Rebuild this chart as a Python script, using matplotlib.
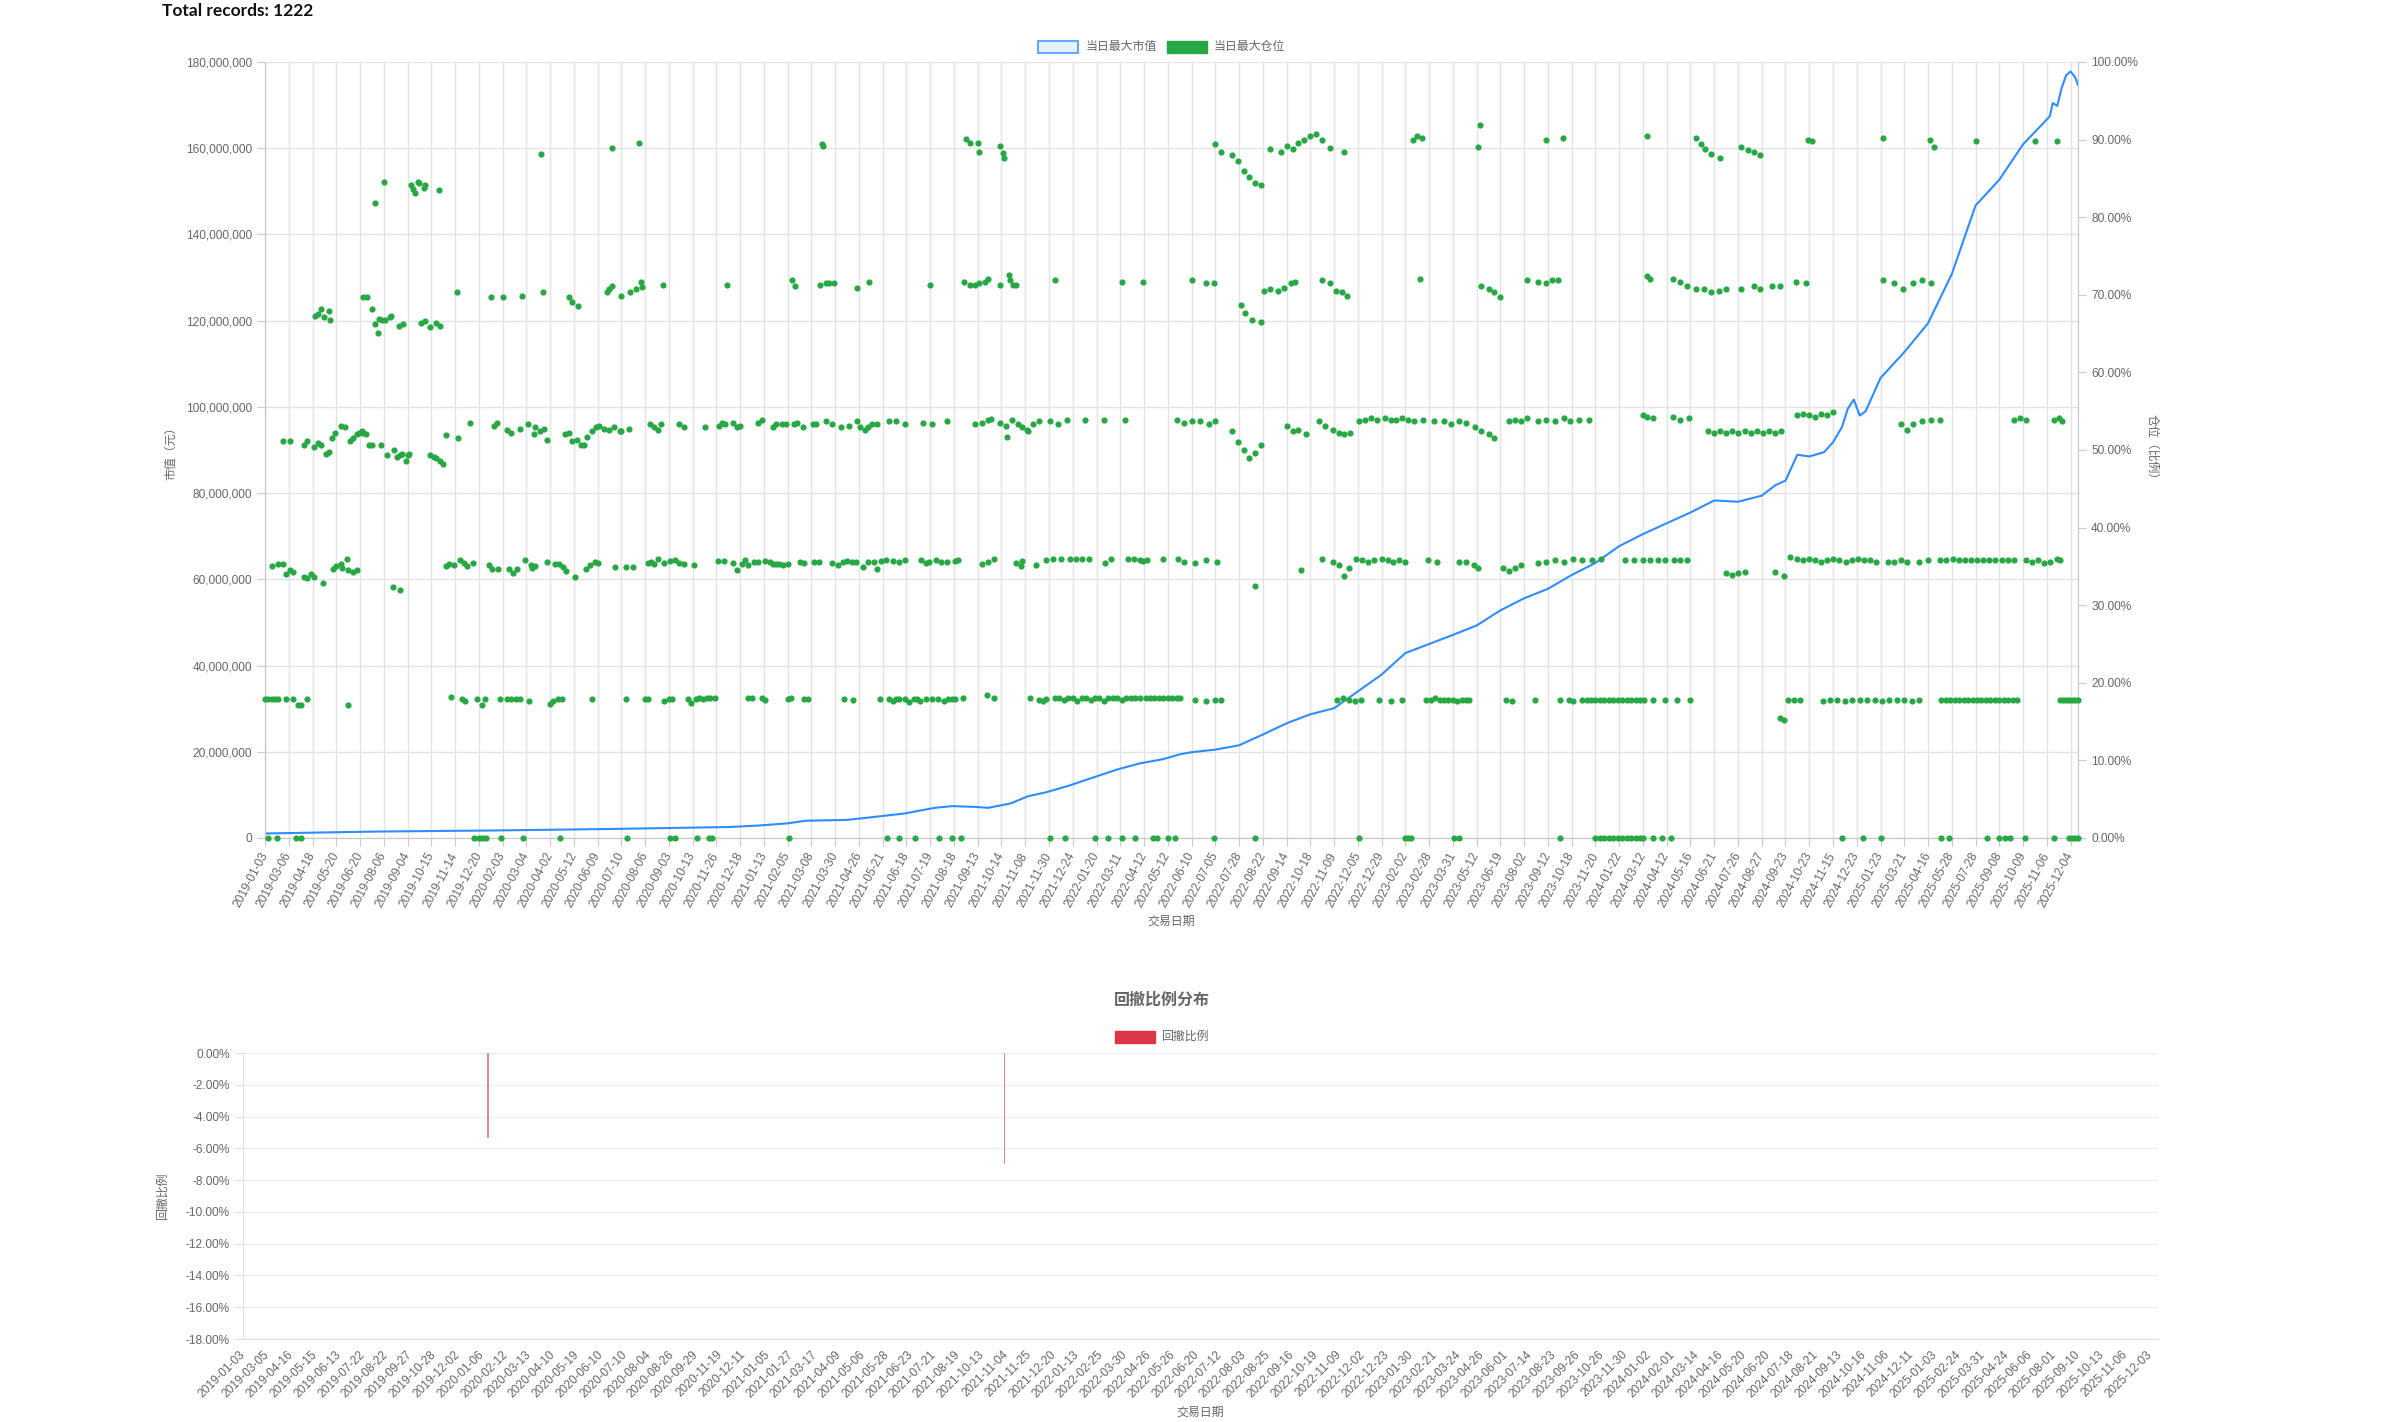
import numpy as np
import matplotlib
matplotlib.use('Agg')
from matplotlib import pyplot as plt
from matplotlib.ticker import FuncFormatter

plt.rcParams['font.family'] = ['Liberation Sans', 'Noto Sans CJK SC']

n_records = 1222
tick_step = 16
tick_labels = [
    '2019-01-03', '2019-03-06', '2019-04-18', '2019-05-20', '2019-06-20', '2019-08-06',
    '2019-09-04', '2019-10-15', '2019-11-14', '2019-12-20', '2020-02-03', '2020-03-04',
    '2020-04-02', '2020-05-12', '2020-06-09', '2020-07-10', '2020-08-06', '2020-09-03',
    '2020-10-13', '2020-11-26', '2020-12-18', '2021-01-13', '2021-02-05', '2021-03-08',
    '2021-03-30', '2021-04-26', '2021-05-21', '2021-06-18', '2021-07-19', '2021-08-18',
    '2021-09-13', '2021-10-14', '2021-11-08', '2021-11-30', '2021-12-24', '2022-01-20',
    '2022-03-11', '2022-04-12', '2022-05-12', '2022-06-10', '2022-07-05', '2022-07-28',
    '2022-08-22', '2022-09-14', '2022-10-18', '2022-11-09', '2022-12-05', '2022-12-29',
    '2023-02-02', '2023-02-28', '2023-03-31', '2023-05-12', '2023-06-19', '2023-08-02',
    '2023-09-12', '2023-10-18', '2023-11-20', '2024-01-22', '2024-03-12', '2024-04-12',
    '2024-05-16', '2024-06-21', '2024-07-26', '2024-08-27', '2024-09-23', '2024-10-23',
    '2024-11-15', '2024-12-23', '2025-01-23', '2025-03-21', '2025-04-16', '2025-05-28',
    '2025-07-28', '2025-09-08', '2025-10-09', '2025-11-06', '2025-12-04',
]

# 当日最大市值, record index -> million yuan
mv_idx = [0, 76, 155, 234, 313, 333, 352, 364, 392, 408, 431, 451, 463, 479, 487, 502, 514,
          526, 542, 554, 574, 589, 605, 616, 624, 640, 656, 672, 688, 704, 720, 736, 752, 768,
          784, 800, 816, 832, 848, 864, 880, 896, 912, 928, 944, 960, 976, 992, 1008, 1017,
          1024, 1032, 1040, 1050, 1056, 1062, 1066, 1070, 1074, 1078, 1088, 1104, 1120, 1136,
          1152, 1168, 1184, 1202, 1204, 1207, 1210, 1213, 1216, 1219, 1221]
mv_val = [1.05, 1.5, 1.75, 2.1, 2.55, 2.9, 3.4, 4.0, 4.2, 4.8, 5.7, 7.0, 7.4, 7.2, 7.0, 8.0,
          9.7, 10.6, 12.2, 13.6, 15.9, 17.3, 18.3, 19.4, 19.9, 20.5, 21.5, 24.0, 26.6, 28.7,
          30.1, 34.0, 37.9, 42.9, 45.0, 47.1, 49.3, 52.8, 55.6, 57.8, 61.0, 63.8, 67.7, 70.5,
          73.0, 75.5, 78.3, 78.0, 79.4, 81.8, 82.9, 88.9, 88.5, 89.5, 91.8, 95.3, 99.6, 101.7,
          98.0, 99.0, 106.7, 112.7, 119.4, 130.8, 146.7, 152.7, 160.9, 167.4, 170.5, 169.8,
          174.0, 176.9, 177.8, 176.5, 174.7]

# 当日最大仓位 (record index, percent)
pos_zero = [2, 8, 21, 24, 141, 144, 146, 149, 159, 174, 199, 244, 273, 276, 291, 299, 301,
            353, 419, 427, 438, 454, 463, 469, 529, 539, 559, 568, 577, 586, 598, 601, 608,
            613, 639, 667, 737, 768, 770, 772, 801, 804, 872, 896, 899, 902, 905, 908,
            911, 914, 917, 920, 923, 926, 928, 935, 941, 947, 1062, 1076, 1088, 1129, 1134,
            1160, 1168, 1172, 1175, 1185, 1205, 1215, 1217, 1219, 1221]

pos_18 = [(0, 17.9), (2, 17.9), (5, 17.9), (7, 17.9), (9, 17.9), (14, 17.9), (19, 17.9),
          (22, 17.2), (24, 17.2), (28, 17.9), (56, 17.1), (125, 18.2), (133, 17.9), (135, 17.6),
          (143, 17.9), (146, 17.2), (148, 17.9), (158, 17.9), (163, 17.9), (166, 17.9),
          (169, 17.9), (172, 17.9), (178, 17.6), (192, 17.3), (194, 17.6), (197, 17.9),
          (200, 17.9), (220, 17.9), (243, 17.9), (256, 17.9), (258, 17.9), (269, 17.6),
          (272, 17.9), (274, 17.9), (285, 17.9), (287, 17.4), (290, 17.9), (292, 18.0),
          (295, 17.9), (298, 18.0), (300, 18.0), (303, 18.0), (325, 18.0), (328, 18.0),
          (335, 18.0), (337, 17.8), (352, 17.9), (354, 18.0), (363, 17.9), (366, 17.9),
          (390, 17.9), (396, 17.8), (414, 17.9), (420, 17.9), (423, 17.7), (425, 17.9),
          (427, 17.9), (431, 17.9), (434, 17.5), (437, 17.9), (439, 17.9), (441, 17.6),
          (445, 17.9), (449, 17.9), (453, 17.9), (457, 17.7), (460, 17.9), (463, 17.9),
          (465, 17.9), (470, 18.0), (486, 18.4), (491, 18.0), (515, 18.0), (521, 17.8),
          (524, 17.6), (526, 17.9), (532, 18.0), (535, 18.0), (538, 17.8), (541, 18.0),
          (544, 18.0), (547, 17.6), (550, 18.0), (553, 18.0), (556, 17.8), (559, 18.0),
          (562, 18.0), (565, 17.7), (568, 18.0), (571, 18.0), (574, 18.0), (577, 17.8),
          (580, 18.0), (583, 18.0), (586, 18.0), (589, 18.0), (593, 18.0), (596, 18.0),
          (599, 18.0), (602, 18.0), (605, 18.0), (608, 18.0), (611, 18.0), (614, 18.0),
          (616, 18.0), (626, 17.8), (634, 17.6), (640, 17.8), (644, 17.8), (722, 17.8),
          (726, 18.0), (730, 17.8), (734, 17.6), (738, 17.8), (750, 17.8), (758, 17.6),
          (766, 17.8), (782, 17.8), (785, 17.8), (788, 18.0), (791, 17.8), (794, 17.8),
          (797, 17.8), (800, 17.8), (803, 17.6), (806, 17.8), (809, 17.8), (811, 17.8),
          (836, 17.8), (840, 17.6), (855, 17.8), (872, 17.8), (878, 17.8), (881, 17.6),
          (887, 17.8), (890, 17.8), (893, 17.8), (896, 17.8), (899, 17.8), (902, 17.8),
          (905, 17.8), (908, 17.8), (911, 17.8), (914, 17.8), (917, 17.8), (920, 17.8),
          (923, 17.8), (926, 17.8), (929, 17.8), (935, 17.8), (943, 17.8), (951, 17.8),
          (960, 17.8), (1020, 15.5), (1023, 15.2), (1026, 17.8), (1030, 17.8), (1034, 17.8),
          (1049, 17.6), (1054, 17.8), (1059, 17.8), (1064, 17.6), (1069, 17.8), (1074, 17.8),
          (1079, 17.8), (1084, 17.8), (1089, 17.6), (1094, 17.8), (1099, 17.8), (1104, 17.8),
          (1109, 17.6), (1114, 17.8), (1129, 17.8), (1132, 17.8), (1135, 17.8), (1138, 17.8),
          (1141, 17.8), (1144, 17.8), (1147, 17.8), (1150, 17.8), (1153, 17.8), (1156, 17.8),
          (1159, 17.8), (1162, 17.8), (1165, 17.8), (1168, 17.8), (1171, 17.8), (1174, 17.8),
          (1177, 17.8), (1180, 17.8), (1209, 17.8), (1211, 17.8), (1213, 17.8), (1215, 17.8),
          (1217, 17.8), (1219, 17.8), (1221, 17.8)]

pos_36 = [(5, 35.1), (9, 35.3), (12, 35.3), (14, 34.0), (17, 34.5), (19, 34.3), (26, 33.6),
          (28, 33.5), (31, 34.0), (33, 33.6), (39, 32.9), (46, 34.7), (48, 35.0), (51, 35.3),
          (52, 34.8), (55, 35.9), (56, 34.5), (59, 34.3), (62, 34.5), (86, 32.3), (91, 32.0),
          (122, 35.0), (124, 35.3), (127, 35.2), (131, 35.8), (134, 35.4), (136, 35.0),
          (140, 35.4), (151, 35.2), (153, 34.7), (157, 34.7), (164, 34.7), (167, 34.2),
          (170, 34.7), (175, 35.8), (179, 35.2), (180, 34.8), (182, 35.1), (190, 35.6),
          (195, 35.3), (198, 35.3), (201, 34.9), (203, 34.4), (209, 33.6), (216, 34.7),
          (219, 35.2), (222, 35.6), (224, 35.4), (236, 34.9), (243, 34.9), (248, 34.9),
          (258, 35.4), (260, 35.6), (262, 35.3), (265, 36.0), (269, 35.4), (273, 35.7),
          (276, 35.8), (279, 35.4), (282, 35.3), (289, 35.2), (305, 35.7), (309, 35.7),
          (315, 35.4), (318, 34.5), (321, 35.3), (323, 35.8), (325, 35.2), (329, 35.6),
          (332, 35.6), (337, 35.7), (340, 35.6), (342, 35.3), (344, 35.3), (346, 35.3),
          (349, 35.2), (352, 35.3), (360, 35.6), (363, 35.4), (370, 35.6), (373, 35.6),
          (382, 35.4), (386, 35.2), (389, 35.6), (392, 35.7), (395, 35.6), (398, 35.6),
          (403, 34.9), (406, 35.6), (410, 35.6), (412, 34.7), (415, 35.7), (418, 35.8),
          (423, 35.7), (427, 35.6), (431, 35.8), (442, 35.8), (445, 35.4), (447, 35.6),
          (452, 35.8), (455, 35.6), (459, 35.6), (465, 35.7), (467, 35.8), (483, 35.3),
          (487, 35.6), (491, 36.0), (506, 35.4), (509, 35.1), (510, 35.7), (519, 35.2),
          (526, 35.8), (531, 36.0), (536, 36.0), (542, 36.0), (546, 36.0), (550, 36.0),
          (555, 36.0), (566, 35.4), (570, 36.0), (581, 36.0), (585, 36.0), (589, 35.8),
          (591, 35.7), (594, 35.8), (605, 36.0), (615, 36.0), (619, 35.6), (626, 35.4),
          (634, 35.8), (641, 35.6), (667, 32.5), (698, 34.6), (712, 36.0), (719, 35.6),
          (723, 35.2), (727, 33.7), (730, 34.8), (735, 36.0), (739, 35.8), (743, 35.6),
          (747, 35.8), (752, 36.0), (756, 35.8), (760, 35.6), (764, 35.8), (768, 35.6),
          (783, 35.8), (789, 35.6), (804, 35.6), (809, 35.6), (814, 35.2), (817, 34.8),
          (834, 34.8), (838, 34.4), (842, 34.8), (846, 35.2), (857, 35.4), (863, 35.6),
          (869, 35.8), (875, 35.6), (881, 36.0), (887, 35.8), (894, 35.8), (900, 36.0),
          (916, 35.8), (922, 35.8), (928, 35.8), (933, 35.8), (938, 35.8), (943, 35.8),
          (949, 35.8), (953, 35.8), (958, 35.8), (984, 34.1), (988, 33.9), (992, 34.1),
          (997, 34.3), (1017, 34.3), (1023, 33.7), (1027, 36.2), (1032, 36.0), (1036, 35.8),
          (1040, 36.0), (1044, 35.8), (1048, 35.6), (1052, 35.8), (1056, 36.0), (1060, 35.8),
          (1065, 35.6), (1069, 35.8), (1073, 36.0), (1077, 35.8), (1081, 35.8), (1085, 35.6),
          (1093, 35.6), (1097, 35.6), (1102, 35.8), (1106, 35.6), (1114, 35.6), (1120, 35.8),
          (1128, 35.8), (1132, 35.8), (1137, 36.0), (1141, 35.8), (1145, 35.8), (1149, 35.8),
          (1153, 35.8), (1157, 35.8), (1161, 35.8), (1165, 35.8), (1170, 35.8), (1174, 35.8),
          (1178, 35.8), (1186, 35.8), (1190, 35.6), (1194, 35.8), (1198, 35.4), (1202, 35.6),
          (1207, 36.0), (1209, 35.8)]

pos_53 = [(12, 51.1), (17, 51.2), (26, 50.6), (28, 51.2), (33, 50.4), (36, 50.9), (38, 50.7),
          (41, 49.5), (43, 49.7), (45, 51.6), (47, 52.2), (51, 53.1), (54, 52.9), (57, 51.2),
          (59, 51.5), (62, 52.0), (63, 52.2), (65, 52.4), (66, 52.2), (68, 52.0), (70, 50.6),
          (72, 50.7), (78, 50.7), (82, 49.3), (87, 50.0), (89, 49.1), (91, 49.4), (92, 49.5),
          (95, 48.6), (96, 49.4), (97, 49.5), (111, 49.3), (114, 49.1), (115, 49.0),
          (118, 48.6), (120, 48.2), (122, 51.9), (130, 51.6), (138, 53.5), (154, 53.1),
          (156, 53.5), (163, 52.6), (166, 52.2), (172, 52.7), (177, 53.3), (181, 52.1),
          (182, 52.9), (185, 52.4), (188, 52.7), (190, 51.3), (202, 52.0), (205, 52.2),
          (207, 51.1), (210, 51.3), (213, 50.6), (215, 50.7), (217, 51.7), (220, 52.4),
          (223, 52.9), (225, 53.1), (228, 52.7), (232, 52.6), (235, 52.9), (239, 52.4),
          (240, 52.5), (245, 52.7), (259, 53.3), (262, 53.0), (265, 52.6), (267, 53.4),
          (279, 53.4), (282, 52.9), (296, 53.0), (306, 53.1), (308, 53.5), (310, 53.3),
          (315, 53.5), (318, 52.9), (320, 53.1), (332, 53.5), (335, 53.9), (342, 53.0),
          (344, 53.4), (348, 53.3), (351, 53.4), (356, 53.3), (358, 53.5), (362, 52.9),
          (369, 53.4), (371, 53.4), (378, 53.7), (382, 53.4), (388, 52.9), (393, 53.1),
          (399, 53.8), (401, 53.0), (404, 52.6), (406, 52.9), (409, 53.3), (412, 53.4),
          (420, 53.8), (425, 53.8), (431, 53.4), (443, 53.5), (449, 53.3), (459, 53.7),
          (478, 53.4), (483, 53.5), (487, 53.9), (489, 54.0), (495, 53.5), (499, 53.1),
          (500, 51.7), (503, 53.9), (507, 53.4), (510, 52.9), (513, 52.6), (514, 52.4),
          (517, 53.3), (521, 53.7), (529, 53.8), (534, 53.4), (540, 53.9), (552, 53.9),
          (565, 53.9), (579, 53.9), (614, 53.9), (619, 53.5), (624, 53.7), (630, 53.7),
          (636, 53.3), (640, 53.7), (651, 52.4), (655, 51.0), (659, 50.0), (663, 49.0),
          (667, 49.6), (671, 50.6), (688, 53.1), (692, 52.4), (696, 52.6), (701, 52.0),
          (710, 53.7), (714, 53.1), (719, 52.6), (723, 52.2), (727, 52.0), (731, 52.2),
          (737, 53.7), (741, 53.9), (745, 54.1), (749, 53.9), (754, 54.1), (758, 53.9),
          (762, 53.9), (766, 54.1), (770, 53.9), (774, 53.7), (780, 53.9), (787, 53.7),
          (794, 53.7), (799, 53.3), (804, 53.7), (809, 53.5), (815, 53.0), (819, 52.4),
          (824, 52.0), (828, 51.6), (838, 53.7), (842, 53.9), (846, 53.7), (850, 54.1),
          (857, 53.7), (863, 53.9), (869, 53.7), (875, 54.1), (879, 53.7), (885, 53.9),
          (892, 53.9), (928, 54.5), (931, 54.3), (935, 54.1), (948, 54.3), (953, 53.9),
          (959, 54.1), (972, 52.4), (976, 52.2), (980, 52.4), (984, 52.2), (988, 52.4),
          (992, 52.2), (997, 52.4), (1001, 52.2), (1005, 52.4), (1009, 52.2), (1013, 52.4),
          (1017, 52.2), (1021, 52.4), (1032, 54.5), (1036, 54.7), (1040, 54.5), (1044, 54.3),
          (1048, 54.7), (1052, 54.5), (1056, 54.9), (1102, 53.3), (1106, 52.6), (1110, 53.3),
          (1116, 53.7), (1122, 53.9), (1128, 53.9), (1178, 53.9), (1182, 54.1), (1186, 53.9),
          (1205, 53.9), (1208, 54.1), (1210, 53.7)]

pos_71 = [(34, 67.3), (36, 67.5), (38, 68.2), (40, 67.1), (43, 67.9), (44, 66.7), (66, 69.7),
          (69, 69.7), (72, 68.2), (74, 66.3), (76, 65.1), (77, 66.9), (79, 66.8), (81, 66.7),
          (84, 67.2), (85, 67.3), (90, 66.0), (93, 66.3), (105, 66.4), (108, 66.6), (111, 65.9),
          (115, 66.4), (118, 66.0), (129, 70.3), (152, 69.7), (160, 69.7), (173, 69.8),
          (187, 70.3), (205, 69.7), (207, 69.1), (211, 68.6), (230, 70.4), (232, 70.8),
          (234, 71.1), (240, 69.8), (246, 70.3), (250, 70.7), (253, 71.6), (254, 71.0),
          (268, 71.3), (311, 71.3), (355, 71.9), (357, 71.1), (374, 71.3), (378, 71.5),
          (380, 71.5), (383, 71.5), (399, 70.9), (407, 71.6), (448, 71.3), (471, 71.7),
          (475, 71.3), (478, 71.3), (481, 71.5), (485, 71.7), (487, 72.0), (495, 71.2),
          (501, 72.6), (502, 71.9), (504, 71.3), (506, 71.2), (532, 71.9), (577, 71.7),
          (591, 71.6), (624, 71.9), (634, 71.5), (639, 71.5), (657, 68.7), (660, 67.7),
          (665, 66.7), (671, 66.5), (673, 70.5), (677, 70.7), (682, 70.5), (686, 70.9),
          (691, 71.5), (694, 71.7), (712, 71.9), (717, 71.5), (721, 70.5), (725, 70.3),
          (729, 69.9), (778, 72.0), (819, 71.1), (824, 70.7), (828, 70.3), (832, 69.7),
          (850, 71.9), (857, 71.7), (863, 71.5), (867, 71.9), (871, 71.9), (931, 72.4),
          (933, 72.0), (948, 72.0), (953, 71.7), (958, 71.1), (964, 70.7), (969, 70.7),
          (974, 70.3), (979, 70.5), (984, 70.7), (994, 70.7), (1003, 71.1), (1007, 70.7),
          (1015, 71.1), (1020, 71.1), (1031, 71.7), (1038, 71.5), (1090, 71.9), (1097, 71.5),
          (1103, 70.7), (1110, 71.5), (1116, 71.9), (1122, 71.5)]

pos_high = [(74, 81.8), (80, 84.6), (98, 84.1), (100, 83.6), (101, 83.1), (103, 84.6),
            (104, 84.4), (107, 83.7), (108, 84.1), (117, 83.5), (186, 88.1), (234, 88.9),
            (252, 89.5), (375, 89.4), (376, 89.2), (472, 90.1), (475, 89.5), (480, 89.5),
            (481, 88.4), (495, 89.2), (497, 88.3), (498, 87.6), (640, 89.4), (644, 88.4),
            (651, 88.0), (655, 87.2), (659, 86.0), (663, 85.2), (667, 84.4), (671, 84.1),
            (677, 88.8), (684, 88.4), (688, 89.2), (692, 88.8), (696, 89.6), (700, 90.0),
            (704, 90.4), (708, 90.7), (712, 90.0), (717, 88.9), (727, 88.4), (773, 90.0),
            (776, 90.4), (779, 90.2), (817, 89.0), (818, 91.9), (863, 90.0), (874, 90.2),
            (931, 90.4), (964, 90.2), (967, 89.4), (970, 88.8), (974, 88.2), (980, 87.6),
            (994, 89.0), (999, 88.6), (1003, 88.4), (1007, 88.0), (1039, 90.0), (1042, 89.8),
            (1090, 90.2), (1121, 90.0), (1124, 89.0), (1152, 89.8), (1192, 89.8), (1207, 89.8)]

dd_labels = [
    '2019-01-03', '2019-03-05', '2019-04-16', '2019-05-15', '2019-06-13', '2019-07-22',
    '2019-08-22', '2019-09-27', '2019-10-28', '2019-12-02', '2020-01-06', '2020-02-12',
    '2020-03-13', '2020-04-10', '2020-05-19', '2020-06-10', '2020-07-10', '2020-08-04',
    '2020-08-26', '2020-09-29', '2020-11-19', '2020-12-11', '2021-01-05', '2021-01-27',
    '2021-03-17', '2021-04-09', '2021-05-06', '2021-05-28', '2021-06-23', '2021-07-21',
    '2021-08-19', '2021-10-13', '2021-11-04', '2021-11-25', '2021-12-20', '2022-01-13',
    '2022-02-25', '2022-03-30', '2022-04-26', '2022-05-26', '2022-06-20', '2022-07-12',
    '2022-08-03', '2022-08-25', '2022-09-16', '2022-10-19', '2022-11-09', '2022-12-02',
    '2022-12-23', '2023-01-30', '2023-02-21', '2023-03-24', '2023-04-26', '2023-06-01',
    '2023-07-14', '2023-08-23', '2023-09-26', '2023-10-26', '2023-11-30', '2024-01-02',
    '2024-02-01', '2024-03-14', '2024-04-16', '2024-05-20', '2024-06-20', '2024-07-18',
    '2024-08-21', '2024-09-13', '2024-10-16', '2024-11-06', '2024-12-11', '2025-01-03',
    '2025-02-24', '2025-03-31', '2025-04-24', '2025-06-06', '2025-08-01', '2025-09-10',
    '2025-10-13', '2025-11-06', '2025-12-03',
]
dd_n = 1286
dd_idx = [164, 511]
dd_val = [-5.37, -6.96]

grid_c = '#e3e3e3'
axis_c = '#c8c8c8'
text_c = '#666666'
green = '#28a745'
fs = 8.6

fig = plt.figure(figsize=(23.95, 14.22), dpi=100)
W, H = 2395.0, 1422.0

fig.text(162 / W, 1 - 11 / H, 'Total records: 1222', fontsize=12.5, fontweight='bold',
         color='#111111', va='center', ha='left', family=['Lato', 'DejaVu Sans'])

# ---- top chart ----
ax = fig.add_axes([265 / W, 1 - 838 / H, (2078 - 265) / W, (838 - 62) / H])
ax.plot(mv_idx, np.array(mv_val) * 1e6, color='#2f8cff', lw=1.5, zorder=3)
ax.set_xlim(0, n_records - 1)
ax.set_ylim(0, 180e6)
ax.set_yticks(np.arange(0, 180e6 + 1, 20e6))
ax.yaxis.set_major_formatter(FuncFormatter(lambda v, p: '{:,.0f}'.format(v)))
ax.set_xticks(np.arange(0, n_records, tick_step))
ax.set_xticklabels(tick_labels, rotation=62, ha='right', va='center', rotation_mode='anchor')
ax.grid(True, color=grid_c, lw=1)
ax.set_axisbelow(True)
for s in ['left', 'bottom', 'right']:
    ax.spines[s].set_color(axis_c)
ax.spines['top'].set_visible(False)
ax.tick_params(colors=axis_c, labelcolor=text_c, labelsize=fs, length=6)
ax.tick_params(axis='x', pad=5)
ax.set_ylabel('市值（元）', color=text_c, fontsize=fs, labelpad=6)
ax.set_xlabel('交易日期', color=text_c, fontsize=fs, labelpad=4)

ax2 = ax.twinx()
ax2.set_ylim(0, 100)
ax2.set_yticks(np.arange(0, 101, 10))
ax2.yaxis.set_major_formatter(FuncFormatter(lambda v, p: '%.2f%%' % v))
ax2.tick_params(colors=axis_c, labelcolor=text_c, labelsize=fs, length=6)
for s in ['left', 'bottom', 'right']:
    ax2.spines[s].set_color(axis_c)
ax2.spines['top'].set_visible(False)
px = list(pos_zero)
py = [0.0] * len(pos_zero)
for grp in [pos_18, pos_36, pos_53, pos_71, pos_high]:
    px += [p[0] for p in grp]
    py += [p[1] for p in grp]
ax2.scatter(px, py, s=20, color=green, lw=0, zorder=4, clip_on=False)
ax2.set_ylabel('仓位（比例）', color=text_c, fontsize=fs, rotation=270, labelpad=14)

# legend
fig.patches.append(plt.Rectangle((1038 / W, 1 - 53 / H), 40 / W, 12 / H, transform=fig.transFigure,
                                 facecolor='#e6f2ff', edgecolor='#66aaff', lw=1.5))
fig.text(1086 / W, 1 - 47 / H, '当日最大市值', fontsize=fs, color=text_c, va='center')
fig.patches.append(plt.Rectangle((1167 / W, 1 - 53 / H), 40 / W, 12 / H, transform=fig.transFigure,
                                 facecolor=green, edgecolor=green, lw=1))
fig.text(1214 / W, 1 - 47 / H, '当日最大仓位', fontsize=fs, color=text_c, va='center')

# ---- bottom chart ----
bx = fig.add_axes([243 / W, 1 - 1339 / H, (2158 - 243) / W, (1339 - 1053) / H])
bx.bar(dd_idx, np.array(dd_val) / 100.0, width=1.0, color='#dc3545', alpha=0.6, lw=0)
bx.set_xlim(-0.5, dd_n - 0.5)
bx.set_ylim(-0.18, 0)
bx.set_yticks(np.arange(-0.18, 0.001, 0.02))
bx.yaxis.set_major_formatter(
    FuncFormatter(lambda v, p: '0.00%' if abs(v) < 1e-9 else '%.2f%%' % (v * 100)))
bx.set_xticks(np.arange(len(dd_labels)) * tick_step)
bx.set_xticklabels(dd_labels, rotation=45, ha='right', va='center', rotation_mode='anchor')
bx.grid(True, axis='y', color='#efefef', lw=1)
bx.set_axisbelow(True)
for s in ['left', 'bottom']:
    bx.spines[s].set_color('#dddddd')
for s in ['top', 'right']:
    bx.spines[s].set_visible(False)
bx.tick_params(axis='y', colors='#dddddd', labelcolor=text_c, labelsize=fs, length=6)
bx.tick_params(axis='x', length=0, labelcolor=text_c, labelsize=fs, pad=10)
bx.set_ylabel('回撤比例', color=text_c, fontsize=fs, labelpad=12)
fig.text(1200 / W, 1 - 1413 / H, '交易日期', fontsize=fs, color=text_c, ha='center', va='center')

fig.text(1162 / W, 1 - 1000 / H, '回撤比例分布', fontsize=11.5, fontweight='bold', color=text_c,
         ha='center', va='center')
fig.patches.append(plt.Rectangle((1115 / W, 1 - 1043 / H), 40 / W, 12 / H, transform=fig.transFigure,
                                 facecolor='#dc3545', edgecolor='#dc3545', lw=1))
fig.text(1161 / W, 1 - 1037 / H, '回撤比例', fontsize=fs, color=text_c, va='center')

fig.savefig('out.png', dpi=100, facecolor='white')
